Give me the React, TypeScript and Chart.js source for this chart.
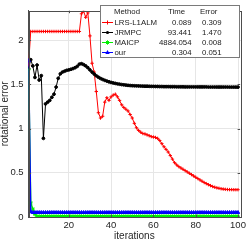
import React, { useEffect, useRef } from 'react';
import { Chart, registerables } from 'chart.js';

Chart.register(...registerables);

const iterations: number[] = Array.from({ length: 100 }, (_, i) => i + 1);

const lrsL1alm: number[] = [
  1.72, 2.10, 2.10, 2.10, 2.10, 2.10, 2.10, 2.10, 2.10, 2.10,
  2.10, 2.10, 2.10, 2.10, 2.10, 2.10, 2.10, 2.10, 2.10, 2.10,
  2.10, 2.10, 2.10, 2.10, 2.10, 2.30, 2.33, 2.26, 2.31, 2.05,
  1.74, 1.64, 1.42, 1.18, 1.12, 1.14, 1.30, 1.35, 1.32, 1.36,
  1.38, 1.39, 1.36, 1.32, 1.27, 1.24, 1.22, 1.20, 1.16, 1.12,
  1.06, 1.01, 0.98, 0.96, 0.945, 0.94, 0.93, 0.92, 0.91, 0.905,
  0.90, 0.89, 0.865, 0.83, 0.795, 0.765, 0.735, 0.695, 0.655, 0.615,
  0.59, 0.57, 0.555, 0.54, 0.525, 0.51, 0.495, 0.48, 0.465, 0.45,
  0.435, 0.42, 0.405, 0.39, 0.378, 0.366, 0.355, 0.345, 0.337, 0.33,
  0.325, 0.32, 0.316, 0.313, 0.311, 0.31, 0.31, 0.309, 0.309, 0.309,
];

const jrmpc: number[] = [
  1.68, 1.78, 1.71, 1.58, 1.72, 1.55, 1.60, 0.89, 1.28, 1.30,
  1.32, 1.355, 1.39, 1.47, 1.57, 1.62, 1.64, 1.65, 1.66, 1.665,
  1.672, 1.68, 1.69, 1.705, 1.73, 1.735, 1.725, 1.71, 1.69, 1.665,
  1.64, 1.618, 1.598, 1.582, 1.568, 1.557, 1.547, 1.538, 1.53, 1.523,
  1.517, 1.512, 1.507, 1.503, 1.499, 1.496, 1.493, 1.49, 1.488, 1.486,
  1.485, 1.484, 1.483, 1.482, 1.481, 1.48, 1.48, 1.479, 1.478, 1.478,
  1.477, 1.477, 1.476, 1.476, 1.475, 1.475, 1.475, 1.474, 1.474, 1.474,
  1.473, 1.473, 1.473, 1.473, 1.472, 1.472, 1.472, 1.472, 1.472, 1.472,
  1.472, 1.472, 1.472, 1.472, 1.472, 1.471, 1.471, 1.471, 1.471, 1.471,
  1.471, 1.471, 1.471, 1.471, 1.471, 1.47, 1.47, 1.47, 1.47, 1.47,
];

const maicp: number[] = [
  1.67, 0.16, 0.09, 0.03, 0.008, 0.008, 0.008, 0.008, 0.008, 0.008,
  0.008, 0.008, 0.008, 0.008, 0.008, 0.008, 0.008, 0.008, 0.008, 0.008,
  0.008, 0.008, 0.008, 0.008, 0.008, 0.008, 0.008, 0.008, 0.008, 0.008,
  0.008, 0.008, 0.008, 0.008, 0.008, 0.008, 0.008, 0.008, 0.008, 0.008,
  0.008, 0.008, 0.008, 0.008, 0.008, 0.008, 0.008, 0.008, 0.008, 0.008,
  0.008, 0.008, 0.008, 0.008, 0.008, 0.008, 0.008, 0.008, 0.008, 0.008,
  0.008, 0.008, 0.008, 0.008, 0.008, 0.008, 0.008, 0.008, 0.008, 0.008,
  0.008, 0.008, 0.008, 0.008, 0.008, 0.008, 0.008, 0.008, 0.008, 0.008,
  0.008, 0.008, 0.008, 0.008, 0.008, 0.008, 0.008, 0.008, 0.008, 0.008,
  0.008, 0.008, 0.008, 0.008, 0.008, 0.008, 0.008, 0.008, 0.008, 0.008,
];

const ours: number[] = [
  1.77, 0.06, 0.051, 0.051, 0.051, 0.051, 0.051, 0.051, 0.051, 0.051,
  0.051, 0.051, 0.051, 0.051, 0.051, 0.051, 0.051, 0.051, 0.051, 0.051,
  0.051, 0.051, 0.051, 0.051, 0.051, 0.051, 0.051, 0.051, 0.051, 0.051,
  0.051, 0.051, 0.051, 0.051, 0.051, 0.051, 0.051, 0.051, 0.051, 0.051,
  0.051, 0.051, 0.051, 0.051, 0.051, 0.051, 0.051, 0.051, 0.051, 0.051,
  0.051, 0.051, 0.051, 0.051, 0.051, 0.051, 0.051, 0.051, 0.051, 0.051,
  0.051, 0.051, 0.051, 0.051, 0.051, 0.051, 0.051, 0.051, 0.051, 0.051,
  0.051, 0.051, 0.051, 0.051, 0.051, 0.051, 0.051, 0.051, 0.051, 0.051,
  0.051, 0.051, 0.051, 0.051, 0.051, 0.051, 0.051, 0.051, 0.051, 0.051,
  0.051, 0.051, 0.051, 0.051, 0.051, 0.051, 0.051, 0.051, 0.051, 0.051,
];

const xTicks: number[] = [20, 40, 60, 80, 100];
const xTickLabels: string[] = ['20', '40', '60', '80', '100'];
const yTicks: number[] = [0, 0.5, 1, 1.5, 2];
const yTickLabels: string[] = ['0', '0.5', '1', '1.5', '2'];

const methodNames: string[] = ['LRS-L1ALM', 'JRMPC', 'MAICP', 'our'];
const methodTimes: string[] = ['0.089', '93.441', '4884.054', '0.304'];
const methodErrors: string[] = ['0.309', '1.470', '0.008', '0.051'];
const methodColors: string[] = ['#ff0000', '#000000', '#00ee00', '#0000ff'];
const methodMarkers: string[] = ['cross', 'circle', 'star', 'triangle'];

const FONT = '"Liberation Sans", Arial, Helvetica, sans-serif';

function drawMarker(ctx: CanvasRenderingContext2D, kind: string, x: number, y: number, color: string) {
  ctx.save();
  ctx.strokeStyle = color;
  ctx.fillStyle = color;
  ctx.lineWidth = 1;
  ctx.beginPath();
  if (kind === 'cross') {
    ctx.moveTo(x - 2, y); ctx.lineTo(x + 2, y);
    ctx.moveTo(x, y - 2); ctx.lineTo(x, y + 2);
    ctx.stroke();
  } else if (kind === 'circle') {
    ctx.arc(x, y, 1.6, 0, Math.PI * 2);
    ctx.fill();
  } else if (kind === 'star') {
    ctx.moveTo(x - 2.2, y); ctx.lineTo(x + 2.2, y);
    ctx.moveTo(x, y - 2.2); ctx.lineTo(x, y + 2.2);
    ctx.moveTo(x - 1.6, y - 1.6); ctx.lineTo(x + 1.6, y + 1.6);
    ctx.moveTo(x - 1.6, y + 1.6); ctx.lineTo(x + 1.6, y - 1.6);
    ctx.stroke();
  } else {
    ctx.moveTo(x, y - 2.4); ctx.lineTo(x + 2.2, y + 1.5); ctx.lineTo(x - 2.2, y + 1.5);
    ctx.closePath();
    ctx.fill();
  }
  ctx.restore();
}

const framePlugin = {
  id: 'frameAndTable',
  afterDatasetsDraw(chart: any) {
    const ctx: CanvasRenderingContext2D = chart.ctx;
    const { left, right, top, bottom } = chart.chartArea;
    const xs = chart.scales.x;
    const ys = chart.scales.y;
    ctx.save();
    ctx.strokeStyle = '#4d4d4d';
    ctx.lineWidth = 1;
    ctx.strokeRect(Math.round(left) + 0.5, Math.round(top) + 0.5, Math.round(right - left), Math.round(bottom - top));
    ctx.beginPath();
    xTicks.forEach((v) => {
      const px = Math.round(xs.getPixelForValue(v)) + 0.5;
      ctx.moveTo(px, bottom); ctx.lineTo(px, bottom - 2.5);
      ctx.moveTo(px, top); ctx.lineTo(px, top + 2.5);
    });
    yTicks.forEach((v) => {
      const py = Math.round(ys.getPixelForValue(v)) + 0.5;
      ctx.moveTo(left, py); ctx.lineTo(left + 2.5, py);
      ctx.moveTo(right, py); ctx.lineTo(right - 2.5, py);
    });
    ctx.stroke();
    ctx.restore();
  },
  afterDraw(chart: any) {
    const ctx: CanvasRenderingContext2D = chart.ctx;
    ctx.save();
    const bx = 100.5, by = 5.5, bw = 139, bh = 52;
    ctx.fillStyle = '#ffffff';
    ctx.fillRect(bx, by, bw, bh);
    ctx.strokeStyle = '#7a7a7a';
    ctx.lineWidth = 1;
    ctx.strokeRect(bx, by, bw, bh);
    ctx.font = `7.8px ${FONT}`;
    ctx.fillStyle = '#1a1a1a';
    ctx.textBaseline = 'middle';
    ctx.textAlign = 'left';
    const headerY = 12;
    ctx.fillText('Method', 114, headerY);
    ctx.fillText('Time', 168, headerY);
    ctx.fillText('Error', 200, headerY);
    methodNames.forEach((name, i) => {
      const y = 22.5 + i * 10;
      ctx.save();
      ctx.strokeStyle = methodColors[i];
      ctx.lineWidth = 1;
      ctx.beginPath();
      ctx.moveTo(102, y); ctx.lineTo(113, y);
      ctx.stroke();
      ctx.restore();
      drawMarker(ctx, methodMarkers[i], 107.5, y, methodColors[i]);
      ctx.fillStyle = '#1a1a1a';
      ctx.textAlign = 'left';
      ctx.fillText(name, 114.5, y);
      ctx.textAlign = 'right';
      ctx.fillText(methodTimes[i], 191.5, y);
      ctx.fillText(methodErrors[i], 221.5, y);
    });
    ctx.restore();
  },
};

export default function App() {
  const canvasRef = useRef<HTMLCanvasElement | null>(null);

  useEffect(() => {
    const canvas = canvasRef.current;
    if (!canvas) return;
    const mk = (label: string, data: number[], color: string, style: string, radius: number, bw: number, order: number) => ({
      label,
      data: iterations.map((x, i) => ({ x, y: data[i] })),
      borderColor: color,
      backgroundColor: color,
      pointBackgroundColor: color,
      pointBorderColor: color,
      pointStyle: style,
      pointRadius: radius,
      pointBorderWidth: 1,
      borderWidth: bw,
      tension: 0,
      order,
    });
    const chart = new Chart(canvas, {
      type: 'line',
      data: {
        datasets: [
          mk(methodNames[0], lrsL1alm, methodColors[0], 'cross', 1.7, 1, 4),
          mk(methodNames[1], jrmpc, methodColors[1], 'circle', 1.4, 1, 3),
          mk(methodNames[2], maicp, methodColors[2], 'star', 2, 1.5, 2),
          mk(methodNames[3], ours, methodColors[3], 'triangle', 2, 1.5, 1),
        ] as any,
      },
      options: {
        responsive: false,
        animation: false,
        devicePixelRatio: 1,
        layout: { padding: { left: 0, top: 1, right: 6, bottom: 0 } },
        plugins: {
          legend: { display: false },
          tooltip: { enabled: false },
        },
        scales: {
          x: {
            type: 'linear',
            min: 1,
            max: 101,
            afterBuildTicks: (scale: any) => {
              scale.ticks = xTicks.map((v) => ({ value: v }));
            },
            afterFit: (scale: any) => {
              scale.height = 23;
            },
            ticks: {
              autoSkip: false,
              maxRotation: 0,
              padding: 3,
              color: '#262626',
              font: { family: FONT, size: 9.5 },
              callback: (v: any) => {
                const i = xTicks.indexOf(Number(v));
                return i >= 0 ? xTickLabels[i] : '';
              },
            },
            grid: { color: '#e6e6e6', drawTicks: false, lineWidth: 1 },
            border: { display: true, color: '#4d4d4d' },
            title: {
              display: true,
              text: 'iterations',
              color: '#262626',
              font: { family: FONT, size: 10 },
              padding: { top: 0, bottom: -2 },
            },
          },
          y: {
            type: 'linear',
            min: 0,
            max: 2.335,
            afterBuildTicks: (scale: any) => {
              scale.ticks = yTicks.map((v) => ({ value: v }));
            },
            afterFit: (scale: any) => {
              scale.width = 28.6;
            },
            ticks: {
              padding: 5,
              color: '#262626',
              font: { family: FONT, size: 9.5 },
              callback: (v: any) => {
                const i = yTicks.indexOf(Number(v));
                return i >= 0 ? yTickLabels[i] : '';
              },
            },
            grid: { color: '#e6e6e6', drawTicks: false, lineWidth: 1 },
            border: { display: true, color: '#4d4d4d' },
            title: {
              display: true,
              text: 'rotational error',
              color: '#262626',
              font: { family: FONT, size: 10 },
              padding: { top: -1, bottom: 0 },
            },
          },
        },
      } as any,
      plugins: [framePlugin],
    });
    return () => chart.destroy();
  }, []);

  return (
    <div style={{ position: 'absolute', left: 0, top: 0, width: 249, height: 240, background: '#fff' }}>
      <canvas ref={canvasRef} width={249} height={240} style={{ display: 'block', width: 249, height: 240 }} />
    </div>
  );
}
